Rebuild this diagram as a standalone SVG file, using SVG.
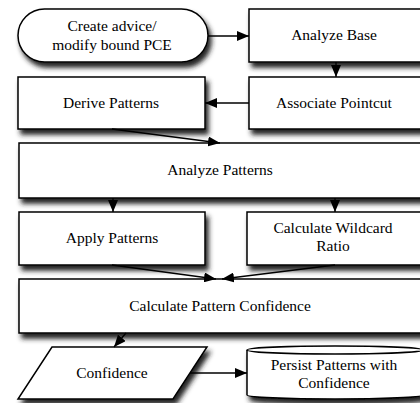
<svg xmlns="http://www.w3.org/2000/svg" width="420" height="403" viewBox="0 0 420 403">
<defs>
<filter id="sh" x="-10%" y="-20%" width="130%" height="170%">
<feGaussianBlur in="SourceAlpha" stdDeviation="2.5" result="blur"/>
<feOffset in="blur" dx="3" dy="5" result="off"/>
<feFlood flood-color="#222" flood-opacity="1"/>
<feComposite in2="off" operator="in" result="shadow"/>
<feMerge><feMergeNode in="shadow"/><feMergeNode in="SourceGraphic"/></feMerge>
</filter>
<marker id="ah" viewBox="0 0 12 10" refX="12" refY="5" markerWidth="12" markerHeight="10" markerUnits="userSpaceOnUse" orient="auto">
<path d="M0,0 L12,5 L0,10 z" fill="#000"/>
</marker>
</defs>
<style>
.n{fill:#fff;stroke:#000;stroke-width:1.5}
.c{fill:none;stroke:#000;stroke-width:1.3;marker-end:url(#ah)}
</style>
<rect width="420" height="403" fill="#fff"/>
<g font-family="Liberation Serif, Times New Roman, serif" font-size="15.5" text-anchor="middle" fill="#000">
<g id="create">
<rect class="n" filter="url(#sh)" x="18" y="9" width="190" height="53" rx="26.5"/>
<text x="112" y="31">Create advice/</text>
<text x="112" y="50">modify bound PCE</text>
</g>
<g id="analyzeBase">
<rect class="n" filter="url(#sh)" x="249" y="9" width="175" height="53"/>
<text x="334" y="40">Analyze Base</text>
</g>
<g id="associate">
<rect class="n" filter="url(#sh)" x="249" y="77" width="175" height="52"/>
<text x="334" y="108">Associate Pointcut</text>
</g>
<g id="derive">
<rect class="n" filter="url(#sh)" x="18" y="77" width="187" height="52"/>
<text x="111" y="108">Derive Patterns</text>
</g>
<g id="analyzePatterns">
<rect class="n" filter="url(#sh)" x="19" y="143" width="405" height="55"/>
<text x="220" y="175">Analyze Patterns</text>
</g>
<g id="apply">
<rect class="n" filter="url(#sh)" x="19" y="212" width="186" height="53"/>
<text x="112" y="243">Apply Patterns</text>
</g>
<g id="wildcard">
<rect class="n" filter="url(#sh)" x="247" y="212" width="177" height="53"/>
<text x="333" y="233">Calculate Wildcard</text>
<text x="333" y="251">Ratio</text>
</g>
<g id="patternConfidence">
<rect class="n" filter="url(#sh)" x="19" y="279" width="405" height="54"/>
<text x="220" y="311">Calculate Pattern Confidence</text>
</g>
<g id="confidence">
<path class="n" filter="url(#sh)" d="M52,347 L207,347 L173,399 L18,399 z"/>
<text x="112" y="378">Confidence</text>
</g>
<g id="persist">
<path class="n" filter="url(#sh)" d="M247,350 A88,4 0 0 1 423,350 L423,395 A88,4 0 0 1 247,395 z"/>
<path d="M247,350 A88,4 0 0 0 423,350" fill="none" stroke="#000" stroke-width="1.5"/>
<text x="334" y="370">Persist Patterns with</text>
<text x="334" y="388">Confidence</text>
</g>
</g>
<g id="connectors">
<path class="c" d="M208,36 L249,36"/>
<path class="c" d="M336,62 L336,77"/>
<path class="c" d="M249,103 L205,103"/>
<path class="c" d="M112,129 L220,143"/>
<path class="c" d="M113,198 L113,212"/>
<path class="c" d="M335,198 L335,212"/>
<path class="c" d="M112,265 L216,279"/>
<path class="c" d="M335,265 L222,279"/>
<path class="c" d="M126,333 L114,347"/>
<path class="c" d="M190,373 L247,373"/>
</g>
</svg>
